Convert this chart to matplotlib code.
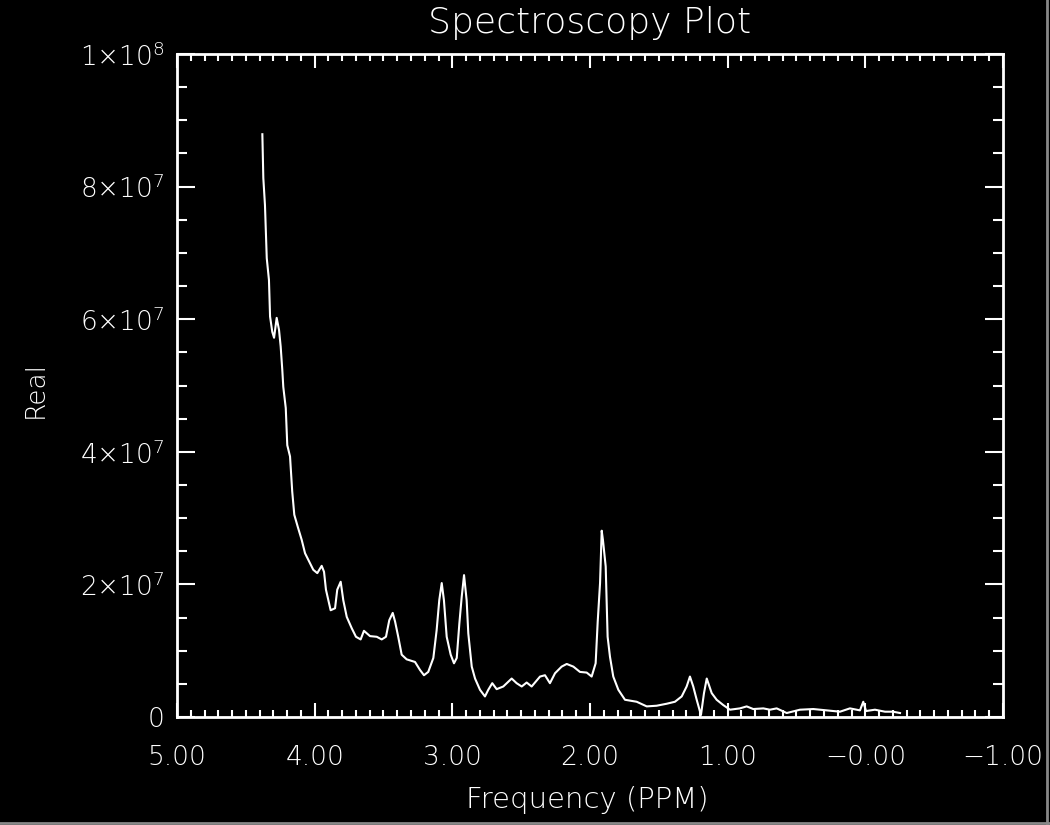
import numpy as np
import matplotlib
matplotlib.use("Agg")
import matplotlib.pyplot as plt
from matplotlib.lines import Line2D
from matplotlib.ticker import FixedLocator, FixedFormatter, MultipleLocator


# spectrum (ppm, real part in units of 1e7)
ppm = [4.380, 4.373, 4.361, 4.348, 4.332, 4.324, 4.308, 4.295, 4.276, 4.259,
       4.247, 4.235, 4.228, 4.210, 4.199, 4.179, 4.163, 4.148, 4.123, 4.094,
       4.070, 4.046, 4.010, 3.981, 3.949, 3.932, 3.918, 3.884, 3.852, 3.836,
       3.811, 3.792, 3.767, 3.731, 3.700, 3.666, 3.642, 3.598, 3.549, 3.513,
       3.482, 3.458, 3.433, 3.416, 3.393, 3.368, 3.332, 3.271, 3.235, 3.206,
       3.175, 3.138, 3.114, 3.095, 3.077, 3.061, 3.041, 3.012, 2.988, 2.968,
       2.949, 2.932, 2.915, 2.896, 2.884, 2.859, 2.835, 2.799, 2.763, 2.739,
       2.710, 2.678, 2.630, 2.569, 2.533, 2.496, 2.460, 2.424, 2.363, 2.327,
       2.291, 2.254, 2.206, 2.169, 2.121, 2.073, 2.024, 1.988, 1.959, 1.944,
       1.927, 1.915, 1.906, 1.886, 1.872, 1.855, 1.831, 1.794, 1.746, 1.661,
       1.588, 1.516, 1.443, 1.383, 1.334, 1.298, 1.274, 1.250, 1.225, 1.194,
       1.172, 1.152, 1.116, 1.080, 1.032, 0.983, 0.911, 0.862, 0.814, 0.741,
       0.693, 0.644, 0.571, 0.475, 0.378, 0.281, 0.184, 0.112, 0.039, 0.015,
       -0.005, -0.070, -0.143, -0.201, -0.252]
real_e7 = [8.79, 8.13, 7.72, 6.92, 6.59, 6.04, 5.81, 5.72, 6.02, 5.84,
           5.59, 5.23, 4.98, 4.66, 4.10, 3.93, 3.40, 3.05, 2.87, 2.67,
           2.47, 2.37, 2.22, 2.17, 2.28, 2.19, 1.92, 1.61, 1.64, 1.92,
           2.04, 1.76, 1.51, 1.34, 1.21, 1.17, 1.30, 1.22, 1.21, 1.17,
           1.21, 1.46, 1.57, 1.44, 1.21, 0.94, 0.87, 0.83, 0.71, 0.63,
           0.68, 0.89, 1.31, 1.76, 2.02, 1.76, 1.21, 0.94, 0.81, 0.89,
           1.41, 1.81, 2.14, 1.76, 1.26, 0.76, 0.58, 0.41, 0.31, 0.41,
           0.51, 0.42, 0.46, 0.58, 0.51, 0.46, 0.52, 0.46, 0.61, 0.63,
           0.51, 0.66, 0.76, 0.80, 0.76, 0.68, 0.67, 0.61, 0.81, 1.44,
           2.02, 2.81, 2.67, 2.27, 1.21, 0.91, 0.61, 0.41, 0.26, 0.23,
           0.16, 0.17, 0.20, 0.23, 0.31, 0.46, 0.61, 0.46, 0.26, 0.03,
           0.36, 0.58, 0.36, 0.26, 0.18, 0.11, 0.13, 0.16, 0.12, 0.13,
           0.11, 0.13, 0.06, 0.11, 0.12, 0.10, 0.08, 0.13, 0.10, 0.23,
           0.09, 0.11, 0.08, 0.08, 0.06]

x_ticks = [5, 4, 3, 2, 1, 0, -1]
x_labels = ["5.00", "4.00", "3.00", "2.00", "1.00", "\u22120.00", "\u22121.00"]
y_ticks = [0, 2e7, 4e7, 6e7, 8e7, 1e8]
y_labels = ["0", "2\u00d710$^{7}$", "4\u00d710$^{7}$", "6\u00d710$^{7}$",
            "8\u00d710$^{7}$", "1\u00d710$^{8}$"]

plt.rcParams["mathtext.default"] = "regular"
plt.rcParams["font.family"] = "DejaVu Sans"
plt.rcParams["font.weight"] = "light"

fig = plt.figure(figsize=(10.5, 8.25), dpi=100, facecolor="black")
ax = fig.add_axes([177 / 1050, 1 - 717 / 825, 826 / 1050, 663 / 825])
ax.set_facecolor("black")

ax.plot(ppm, np.array(real_e7) * 1e7, color="white", lw=1.5)

ax.set_xlim(5, -1)
ax.set_ylim(0, 1e8)
ax.xaxis.set_major_locator(FixedLocator(x_ticks))
ax.xaxis.set_major_formatter(FixedFormatter(x_labels))
ax.xaxis.set_minor_locator(MultipleLocator(0.1))
ax.yaxis.set_major_locator(FixedLocator(y_ticks))
ax.yaxis.set_major_formatter(FixedFormatter(y_labels))
ax.yaxis.set_minor_locator(MultipleLocator(5e6))

for s in ax.spines.values():
    s.set_color("white")
    s.set_linewidth(2)

ax.tick_params(axis="both", which="both", direction="in", colors="white",
               top=True, right=True, width=1.5, labelsize=19)
ax.tick_params(axis="x", which="major", length=10, pad=20)
ax.tick_params(axis="x", which="minor", length=5)
ax.tick_params(axis="y", which="major", length=13, pad=9)
ax.tick_params(axis="y", which="minor", length=7)

fig.text(590 / 1050, 1 - 23 / 825, "Spectroscopy Plot", color="white",
         fontsize=26, ha="center", va="center")
fig.text(587 / 1050, 1 - 800 / 825, "Frequency (PPM)", color="white",
         fontsize=21, ha="center", va="center")
fig.text(35 / 1050, 1 - 390 / 825, "Real", color="white", fontsize=19,
         ha="center", va="center", rotation=90)

# grey frame on the right and bottom edges of the image
fig.add_artist(Line2D([0, 1], [0.003, 0.003], color="#888888", lw=2,
                      transform=fig.transFigure))
fig.add_artist(Line2D([0.997, 0.997], [0, 1], color="#888888", lw=2,
                      transform=fig.transFigure))

fig.savefig("out.png", dpi=100, facecolor="black")
